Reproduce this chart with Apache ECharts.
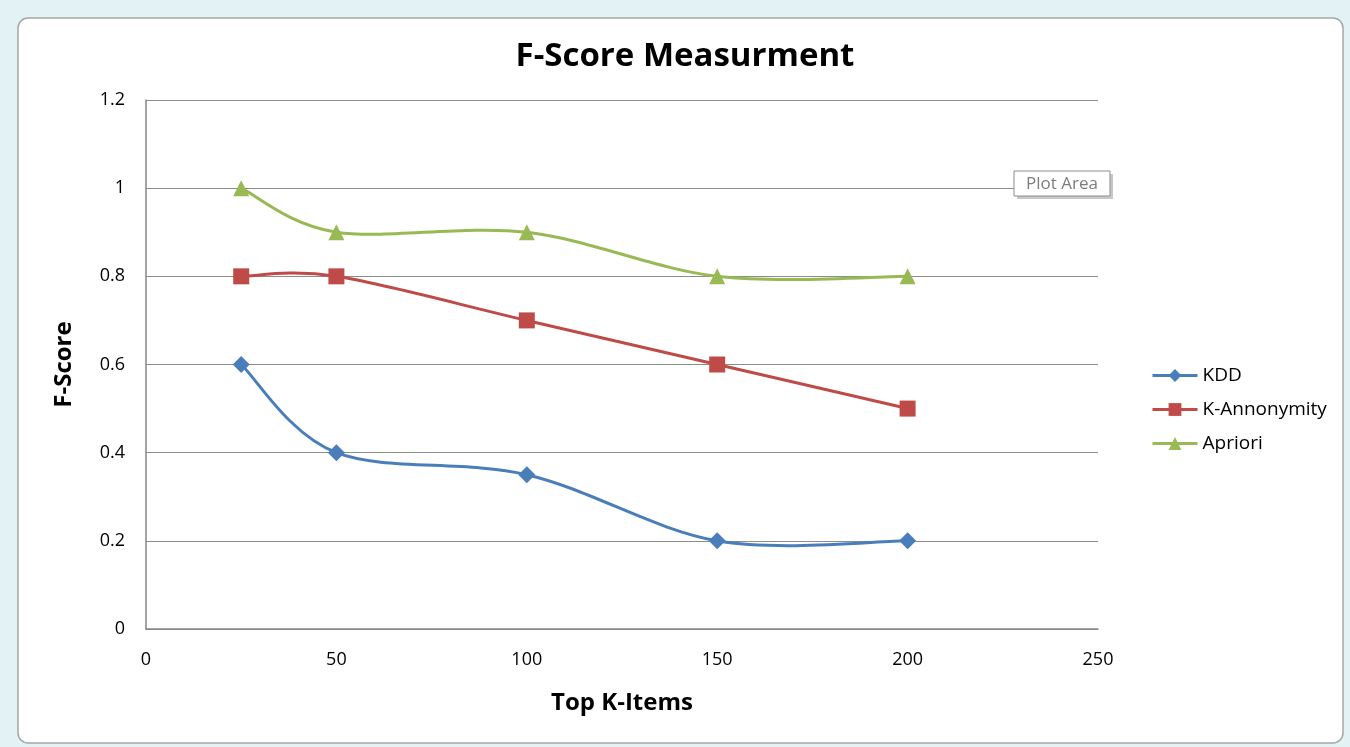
<!DOCTYPE html>
<html>
<head>
<meta charset="utf-8">
<script src="https://cdn.jsdelivr.net/npm/echarts@6/dist/echarts.min.js"></script>
<style>
html,body{margin:0;padding:0;background:#e2f2f5;}
#c{width:1350px;height:747px;}
</style>
</head>
<body>
<div id="c"></div>
<script>
var xValues = [25, 50, 100, 150, 200];
var kdd = [0.6, 0.4, 0.35, 0.2, 0.2];
var kAnon = [0.8, 0.8, 0.7, 0.6, 0.5];
var apriori = [1, 0.9, 0.9, 0.8, 0.8];
var seriesNames = ['KDD', 'K-Annonymity', 'Apriori'];
var xTicks = [0, 50, 100, 150, 200, 250];
var yTicks = [0, 0.2, 0.4, 0.6, 0.8, 1, 1.2];

function pairs(vals){ return xValues.map(function(x,i){ return [x, vals[i]]; }); }

var FONT = '"Open Sans", "Liberation Sans", sans-serif';
var chart = echarts.init(document.getElementById('c'));
var colors = ['#4a7ebb', '#be4b48', '#98b954'];
var symbols = ['diamond', 'rect', 'triangle'];
var symbolSizes = [17, 16, 16];
var allValues = [kdd, kAnon, apriori];

// Excel-style smoothed curve (Catmull-Rom -> cubic Bezier), in pixel space via the axes
function curveRenderer(vals, color){
  return function(params, api){
    if (params.dataIndex !== 0) return null;
    var p = vals.map(function(v, i){ return api.coord([xValues[i], v]); });
    var n = p.length;
    var d = 'M' + p[0][0] + ' ' + p[0][1];
    for (var i = 0; i < n - 1; i++){
      var p0 = p[Math.max(0, i - 1)], p1 = p[i], p2 = p[i + 1], p3 = p[Math.min(n - 1, i + 2)];
      var c1x = p1[0] + (p2[0] - p0[0]) / 6, c1y = p1[1] + (p2[1] - p0[1]) / 6;
      var c2x = p2[0] - (p3[0] - p1[0]) / 6, c2y = p2[1] - (p3[1] - p1[1]) / 6;
      d += ' C' + c1x + ' ' + c1y + ' ' + c2x + ' ' + c2y + ' ' + p2[0] + ' ' + p2[1];
    }
    return { type: 'path', shape: { pathData: d },
      style: { fill: 'none', stroke: color, lineWidth: 3, lineJoin: 'round' } };
  };
}

var series = [];
seriesNames.forEach(function(name, k){
  series.push({ name: name, type: 'line', data: pairs(allValues[k]), color: colors[k],
    symbol: symbols[k], symbolSize: symbolSizes[k], z: 3,
    itemStyle: { color: colors[k] },
    lineStyle: { width: 3, opacity: 0 } });
});
seriesNames.forEach(function(name, k){
  series.push({ name: name, type: 'custom', data: pairs(allValues[k]), z: 2,
    encode: { x: 0, y: 1 }, renderItem: curveRenderer(allValues[k], colors[k]) });
});

chart.setOption({
  backgroundColor: '#e2f2f5',
  animation: false,
  graphic: [
    { type: 'rect', z: -10, shape: { x: 18, y: 18, width: 1325, height: 725, r: 10 },
      style: { fill: '#ffffff', stroke: '#a6a6a6', lineWidth: 1.5 } },
    { type: 'rect', z: 100, shape: { x: 1017, y: 174, width: 96, height: 25 }, style: { fill: '#c8c8c8' } },
    { type: 'rect', z: 101, shape: { x: 1014, y: 171, width: 96, height: 25 }, style: { fill: '#ffffff', stroke: '#8c8c8c', lineWidth: 1 } },
    { type: 'text', z: 102, x: 1062, y: 184, style: { text: 'Plot Area', fill: '#7d7d7d', font: '17px ' + FONT, align: 'center', verticalAlign: 'middle' } }
  ],
  title: {
    text: 'F-Score Measurment', left: 680, top: 35, textAlign: 'center',
    textStyle: { fontFamily: FONT, fontSize: 33, fontWeight: 'bold', color: '#000' }
  },
  legend: {
    orient: 'vertical', left: 1146, top: 361, itemGap: 15, itemWidth: 45, itemHeight: 16,
    data: seriesNames,
    lineStyle: { width: 3, opacity: 1 },
    textStyle: { fontFamily: FONT, fontSize: 19, color: '#000' }
  },
  grid: { left: 146, top: 100, right: 252, bottom: 118 },
  xAxis: {
    type: 'value', min: 0, max: 250, interval: 50,
    name: 'Top K-Items', nameLocation: 'middle', nameGap: 62,
    nameTextStyle: { fontFamily: FONT, fontSize: 24, fontWeight: 'bold', color: '#000' },
    axisLine: { show: true, lineStyle: { color: '#868686', width: 1.5 } },
    axisTick: { show: false },
    splitLine: { show: false },
    axisLabel: { fontFamily: FONT, fontSize: 18, color: '#000', margin: 22,
      formatter: function(v){ return xTicks.indexOf(v) >= 0 ? String(v) : ''; } }
  },
  yAxis: {
    type: 'value', min: 0, max: 1.2, interval: 0.2,
    name: 'F-Score', nameLocation: 'middle', nameGap: 70, nameRotate: 90,
    nameTextStyle: { fontFamily: FONT, fontSize: 24, fontWeight: 'bold', color: '#000' },
    axisLine: { show: true, lineStyle: { color: '#868686', width: 1.5 } },
    axisTick: { show: false },
    splitLine: { show: true, lineStyle: { color: '#8c8c8c', width: 1 } },
    axisLabel: { fontFamily: FONT, fontSize: 18, color: '#000', margin: 21,
      formatter: function(v){
        var r = Math.round(v * 10) / 10;
        return yTicks.indexOf(r) >= 0 ? String(r) : '';
      } }
  },
  series: series
});
</script>
</body>
</html>
